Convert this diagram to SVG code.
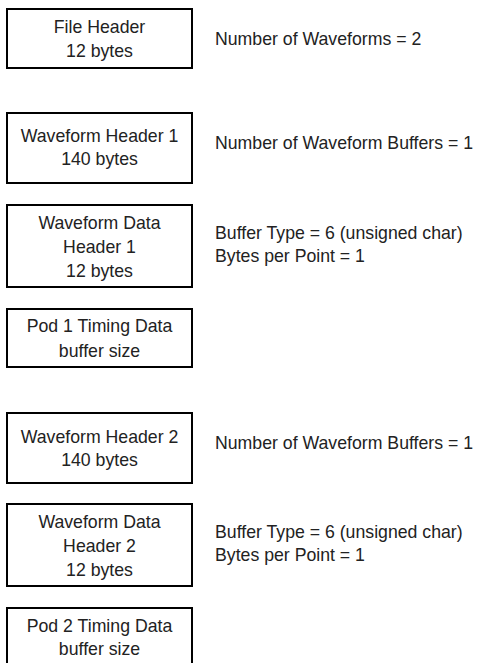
<svg xmlns="http://www.w3.org/2000/svg" width="479" height="663" viewBox="0 0 479 663">
<style>
.box{fill:#fff;stroke:#000;stroke-width:2}
text{font-family:"Liberation Sans",Arial,sans-serif;font-size:17.7px;fill:#222}
.c{text-anchor:middle}
</style>
<rect width="479" height="663" fill="#fff"/>
<g id="file-header"><rect class="box" x="7" y="9" width="185" height="59"/><text class="c" x="99.5" y="33">File Header</text><text class="c" x="99.5" y="56.5">12 bytes</text></g>
<g id="waveform-header-1"><rect class="box" x="7" y="113" width="185" height="70"/><text class="c" x="99.5" y="142">Waveform Header 1</text><text class="c" x="99.5" y="165">140 bytes</text></g>
<g id="waveform-data-header-1"><rect class="box" x="7" y="205" width="185" height="82"/><text class="c" x="99.5" y="229">Waveform Data</text><text class="c" x="99.5" y="253">Header 1</text><text class="c" x="99.5" y="277">12 bytes</text></g>
<g id="pod1"><rect class="box" x="7" y="309" width="185" height="58"/><text class="c" x="99.5" y="332">Pod 1 Timing Data</text><text class="c" x="99.5" y="356.5">buffer size</text></g>
<g id="waveform-header-2"><rect class="box" x="7" y="413" width="185" height="70"/><text class="c" x="99.5" y="442.5">Waveform Header 2</text><text class="c" x="99.5" y="466">140 bytes</text></g>
<g id="waveform-data-header-2"><rect class="box" x="7" y="504" width="185" height="82"/><text class="c" x="99.5" y="528">Waveform Data</text><text class="c" x="99.5" y="552">Header 2</text><text class="c" x="99.5" y="575.5">12 bytes</text></g>
<g id="pod2"><rect class="box" x="7" y="608" width="185" height="62"/><text class="c" x="99.5" y="631.5">Pod 2 Timing Data</text><text class="c" x="99.5" y="655">buffer size</text></g>
<g id="annotations">
<text x="215" y="45">Number of Waveforms = 2</text>
<text x="215" y="149">Number of Waveform Buffers = 1</text>
<text x="215" y="239">Buffer Type = 6 (unsigned char)</text>
<text x="215" y="262">Bytes per Point = 1</text>
<text x="215" y="449">Number of Waveform Buffers = 1</text>
<text x="215" y="538">Buffer Type = 6 (unsigned char)</text>
<text x="215" y="561">Bytes per Point = 1</text>
</g>
<g id="connectors"></g>
</svg>
